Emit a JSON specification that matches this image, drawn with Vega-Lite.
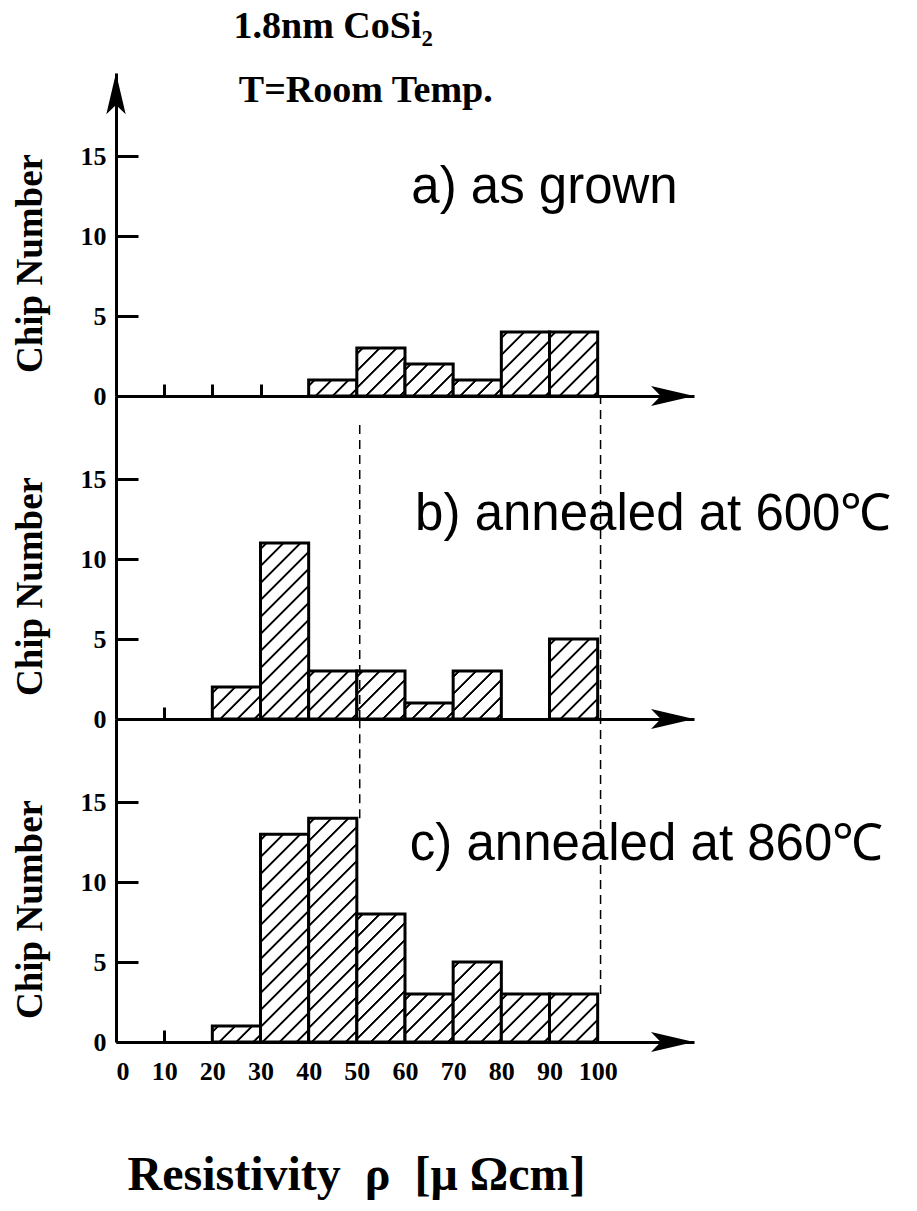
{
"$schema": "https://vega.github.io/schema/vega-lite/v6.json",
"background": "white",
"padding": {"left": 11, "top": 7, "right": 5, "bottom": 5},
"spacing": 0,
"bounds": "flush",
"params": [{"name": "hatch", "value": [
{"offset":0.012,"color":"#fff"},{"offset":0.015,"color":"#000"},{"offset":0.020,"color":"#000"},{"offset":0.023,"color":"#fff"},
{"offset":0.062,"color":"#fff"},{"offset":0.065,"color":"#000"},{"offset":0.070,"color":"#000"},{"offset":0.073,"color":"#fff"},
{"offset":0.112,"color":"#fff"},{"offset":0.115,"color":"#000"},{"offset":0.120,"color":"#000"},{"offset":0.123,"color":"#fff"},
{"offset":0.162,"color":"#fff"},{"offset":0.165,"color":"#000"},{"offset":0.170,"color":"#000"},{"offset":0.173,"color":"#fff"},
{"offset":0.212,"color":"#fff"},{"offset":0.215,"color":"#000"},{"offset":0.220,"color":"#000"},{"offset":0.223,"color":"#fff"},
{"offset":0.262,"color":"#fff"},{"offset":0.265,"color":"#000"},{"offset":0.270,"color":"#000"},{"offset":0.273,"color":"#fff"},
{"offset":0.312,"color":"#fff"},{"offset":0.315,"color":"#000"},{"offset":0.320,"color":"#000"},{"offset":0.323,"color":"#fff"},
{"offset":0.362,"color":"#fff"},{"offset":0.365,"color":"#000"},{"offset":0.370,"color":"#000"},{"offset":0.373,"color":"#fff"},
{"offset":0.412,"color":"#fff"},{"offset":0.415,"color":"#000"},{"offset":0.420,"color":"#000"},{"offset":0.423,"color":"#fff"},
{"offset":0.462,"color":"#fff"},{"offset":0.465,"color":"#000"},{"offset":0.470,"color":"#000"},{"offset":0.473,"color":"#fff"},
{"offset":0.512,"color":"#fff"},{"offset":0.515,"color":"#000"},{"offset":0.520,"color":"#000"},{"offset":0.523,"color":"#fff"},
{"offset":0.562,"color":"#fff"},{"offset":0.565,"color":"#000"},{"offset":0.570,"color":"#000"},{"offset":0.573,"color":"#fff"},
{"offset":0.612,"color":"#fff"},{"offset":0.615,"color":"#000"},{"offset":0.620,"color":"#000"},{"offset":0.623,"color":"#fff"},
{"offset":0.662,"color":"#fff"},{"offset":0.665,"color":"#000"},{"offset":0.670,"color":"#000"},{"offset":0.673,"color":"#fff"},
{"offset":0.712,"color":"#fff"},{"offset":0.715,"color":"#000"},{"offset":0.720,"color":"#000"},{"offset":0.723,"color":"#fff"},
{"offset":0.762,"color":"#fff"},{"offset":0.765,"color":"#000"},{"offset":0.770,"color":"#000"},{"offset":0.773,"color":"#fff"}
]}],
"config": {
  "view": {"stroke": null},
  "axis": {"grid": false, "domainColor": "black", "tickColor": "black", "labelColor": "black", "titleColor": "black", "domainWidth": 3, "tickWidth": 3, "domainCap": "butt"}
},
"vconcat": [
{
  "width": 578, "height": 323,
  "layer": [
    {
      "data": {"values": [
        {"lo": 40, "hi": 50, "count": 1},
        {"lo": 50, "hi": 60, "count": 3},
        {"lo": 60, "hi": 70, "count": 2},
        {"lo": 70, "hi": 80, "count": 1},
        {"lo": 80, "hi": 90, "count": 4},
        {"lo": 90, "hi": 100, "count": 4}
      ]},
      "mark": {"type": "bar", "stroke": "black", "strokeWidth": 3},
      "encoding": {
        "x": {"field": "lo", "type": "quantitative", "scale": {"domain": [0, 120], "nice": false, "zero": false},
              "axis": {"values": [10, 20, 30], "labels": false, "tickSize": -12, "title": null}},
        "x2": {"field": "hi"},
        "y": {"field": "count", "type": "quantitative", "scale": {"domain": [0, 20.2], "nice": false},
              "axis": {"values": [0, 5, 10, 15], "tickSize": -22, "labelPadding": 32, "labelFont": "Liberation Serif", "labelFontWeight": "bold", "labelFontSize": 26,
                       "title": "Chip Number", "titleFont": "Liberation Serif", "titleFontWeight": "bold", "titleFontSize": 37,
                       "titleX": -75, "titleY": 190, "titleAngle": -90, "titleAlign": "center", "titleBaseline": "alphabetic"}},
        "y2": {"datum": 0},
        "fill": {"value": {"expr": "{gradient:'linear',x1:0,y1:0,x2:48.17*340/(2320.4+pow(datum.count*15.99,2)),y2:datum.count*15.99*340/(2320.4+pow(datum.count*15.99,2)),stops:hatch}"}}
      }
    },
    {
      "data": {"values": [
        {"x": 24.4, "y": 22.4, "label": "1.8nm CoSi₂"},
        {"x": 25.5, "y": 18.4, "label": "T=Room Temp."}
      ]},
      "mark": {"type": "text", "align": "left", "baseline": "alphabetic", "font": "Liberation Serif", "fontWeight": "bold", "fontSize": 38, "color": "black"},
      "encoding": {
        "x": {"field": "x", "type": "quantitative"},
        "y": {"field": "y", "type": "quantitative"},
        "text": {"field": "label"}
      }
    },
    {
      "data": {"values": [{"x": 61.3, "y": 12.1, "label": "a) as grown"}]},
      "mark": {"type": "text", "align": "left", "baseline": "alphabetic", "font": "Liberation Sans", "fontSize": 51, "color": "black"},
      "encoding": {
        "x": {"field": "x", "type": "quantitative"},
        "y": {"field": "y", "type": "quantitative"},
        "text": {"field": "label"}
      }
    },
    {
      "data": {"values": [{"ax": 120, "ay": 0}]},
      "mark": {"type": "point", "shape": "M0,0L-2,-0.47L-1.55,0L-2,0.47Z", "size": 1849, "filled": true, "color": "black", "strokeWidth": 0, "opacity": 1},
      "encoding": {"x": {"field": "ax", "type": "quantitative"}, "y": {"field": "ay", "type": "quantitative"}}
    },
    {
      "data": {"values": [{"ax": 0, "ay": 20.2}]},
      "mark": {"type": "point", "shape": "M0,0L-2,-0.47L-1.55,0L-2,0.47Z", "size": 1700, "angle": -90, "filled": true, "color": "black", "strokeWidth": 0, "opacity": 1},
      "encoding": {"x": {"field": "ax", "type": "quantitative"}, "y": {"field": "ay", "type": "quantitative"}}
    }
  ]
},
{
  "width": 578, "height": 323,
  "layer": [
    {
      "data": {"values": [
        {"lo": 20, "hi": 30, "count": 2},
        {"lo": 30, "hi": 40, "count": 11},
        {"lo": 40, "hi": 50, "count": 3},
        {"lo": 50, "hi": 60, "count": 3},
        {"lo": 60, "hi": 70, "count": 1},
        {"lo": 70, "hi": 80, "count": 3},
        {"lo": 90, "hi": 100, "count": 5}
      ]},
      "mark": {"type": "bar", "stroke": "black", "strokeWidth": 3},
      "encoding": {
        "x": {"field": "lo", "type": "quantitative", "scale": {"domain": [0, 120], "nice": false, "zero": false},
              "axis": {"values": [10], "labels": false, "tickSize": -12, "title": null}},
        "x2": {"field": "hi"},
        "y": {"field": "count", "type": "quantitative", "scale": {"domain": [0, 20.2], "nice": false},
              "axis": {"values": [0, 5, 10, 15], "tickSize": -22, "labelPadding": 32, "labelFont": "Liberation Serif", "labelFontWeight": "bold", "labelFontSize": 26,
                       "title": "Chip Number", "titleFont": "Liberation Serif", "titleFontWeight": "bold", "titleFontSize": 37,
                       "titleX": -75, "titleY": 190, "titleAngle": -90, "titleAlign": "center", "titleBaseline": "alphabetic"}},
        "y2": {"datum": 0},
        "fill": {"value": {"expr": "{gradient:'linear',x1:0,y1:0,x2:48.17*340/(2320.4+pow(datum.count*15.99,2)),y2:datum.count*15.99*340/(2320.4+pow(datum.count*15.99,2)),stops:hatch}"}}
      }
    },
    {
      "data": {"values": [
        {"x": 50.6, "y1": 0, "y2": 18.6},
        {"x": 100.6, "y1": 0, "y2": 20.2}
      ]},
      "mark": {"type": "rule", "strokeDash": [9, 6], "strokeWidth": 1.5, "color": "black"},
      "encoding": {
        "x": {"field": "x", "type": "quantitative"},
        "y": {"field": "y1", "type": "quantitative"},
        "y2": {"field": "y2"}
      }
    },
    {
      "data": {"values": [{"x": 62.1, "y": 11.8, "label": "b) annealed at 600℃"}]},
      "mark": {"type": "text", "align": "left", "baseline": "alphabetic", "font": "Liberation Sans", "fontSize": 51, "color": "black"},
      "encoding": {
        "x": {"field": "x", "type": "quantitative"},
        "y": {"field": "y", "type": "quantitative"},
        "text": {"field": "label"}
      }
    },
    {
      "data": {"values": [{"ax": 120, "ay": 0}]},
      "mark": {"type": "point", "shape": "M0,0L-2,-0.47L-1.55,0L-2,0.47Z", "size": 1849, "filled": true, "color": "black", "strokeWidth": 0, "opacity": 1},
      "encoding": {"x": {"field": "ax", "type": "quantitative"}, "y": {"field": "ay", "type": "quantitative"}}
    }
  ]
},
{
  "width": 578, "height": 323,
  "layer": [
    {
      "data": {"values": [
        {"lo": 20, "hi": 30, "count": 1},
        {"lo": 30, "hi": 40, "count": 13},
        {"lo": 40, "hi": 50, "count": 14},
        {"lo": 50, "hi": 60, "count": 8},
        {"lo": 60, "hi": 70, "count": 3},
        {"lo": 70, "hi": 80, "count": 5},
        {"lo": 80, "hi": 90, "count": 3},
        {"lo": 90, "hi": 100, "count": 3}
      ]},
      "mark": {"type": "bar", "stroke": "black", "strokeWidth": 3},
      "encoding": {
        "x": {"field": "lo", "type": "quantitative", "scale": {"domain": [0, 120], "nice": false, "zero": false},
              "axis": {"values": [0, 10, 20, 30, 40, 50, 60, 70, 80, 90, 100], "tickSize": -12,
                       "tickOpacity": {"condition": {"test": "datum.value == 10", "value": 1}, "value": 0},
                       "labelPadding": 28, "labelFont": "Liberation Serif", "labelFontWeight": "bold", "labelFontSize": 26, "labelBaseline": "top",
                       "title": "Resistivity\u00a0\u00a0ρ\u00a0\u00a0[μ\u00a0Ωcm]", "titleFont": "Liberation Serif", "titleFontWeight": "bold", "titleFontSize": 48,
                       "titleX": 240, "titleY": 147, "titleAlign": "center", "titleBaseline": "alphabetic"}},
        "x2": {"field": "hi"},
        "y": {"field": "count", "type": "quantitative", "scale": {"domain": [0, 20.2], "nice": false},
              "axis": {"values": [0, 5, 10, 15], "tickSize": -22, "labelPadding": 32, "labelFont": "Liberation Serif", "labelFontWeight": "bold", "labelFontSize": 26,
                       "title": "Chip Number", "titleFont": "Liberation Serif", "titleFontWeight": "bold", "titleFontSize": 37,
                       "titleX": -75, "titleY": 190, "titleAngle": -90, "titleAlign": "center", "titleBaseline": "alphabetic"}},
        "y2": {"datum": 0},
        "fill": {"value": {"expr": "{gradient:'linear',x1:0,y1:0,x2:48.17*340/(2320.4+pow(datum.count*15.99,2)),y2:datum.count*15.99*340/(2320.4+pow(datum.count*15.99,2)),stops:hatch}"}}
      }
    },
    {
      "data": {"values": [
        {"x": 50.6, "y1": 14, "y2": 20.2},
        {"x": 100.6, "y1": 3, "y2": 20.2}
      ]},
      "mark": {"type": "rule", "strokeDash": [9, 6], "strokeWidth": 1.5, "color": "black"},
      "encoding": {
        "x": {"field": "x", "type": "quantitative"},
        "y": {"field": "y1", "type": "quantitative"},
        "y2": {"field": "y2"}
      }
    },
    {
      "data": {"values": [{"x": 61.0, "y": 11.4, "label": "c) annealed at 860℃"}]},
      "mark": {"type": "text", "align": "left", "baseline": "alphabetic", "font": "Liberation Sans", "fontSize": 51, "color": "black"},
      "encoding": {
        "x": {"field": "x", "type": "quantitative"},
        "y": {"field": "y", "type": "quantitative"},
        "text": {"field": "label"}
      }
    },
    {
      "data": {"values": [{"ax": 120, "ay": 0}]},
      "mark": {"type": "point", "shape": "M0,0L-2,-0.47L-1.55,0L-2,0.47Z", "size": 1849, "filled": true, "color": "black", "strokeWidth": 0, "opacity": 1},
      "encoding": {"x": {"field": "ax", "type": "quantitative"}, "y": {"field": "ay", "type": "quantitative"}}
    }
  ]
}
]
}
